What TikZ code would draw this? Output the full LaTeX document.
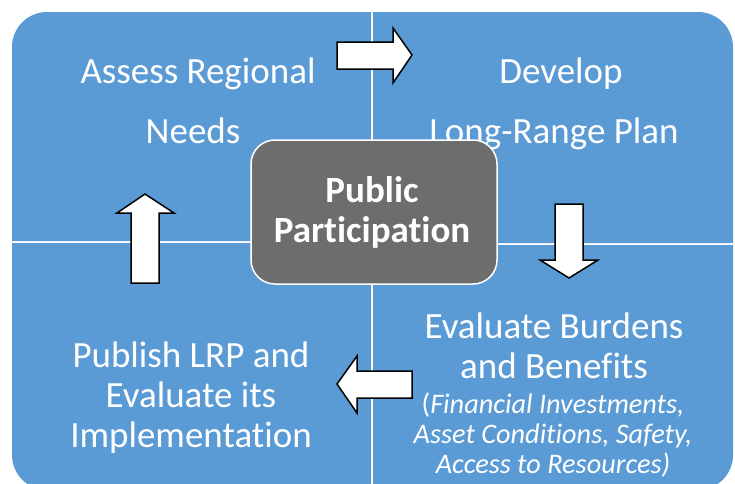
\documentclass[tikz,border=0pt]{standalone}
\usepackage{fontspec}
\setmainfont[Ligatures=NoCommon]{Carlito}
\definecolor{quadblue}{HTML}{5B9BD5}
\definecolor{boxgray}{HTML}{6D6D6D}
\begin{document}
\begin{tikzpicture}[x=1pt,y=-1pt,
  quad/.style={fill=quadblue,draw=none},
  bigtxt/.style={text=white,font=\fontsize{37}{40}\selectfont,anchor=base,inner sep=0pt},
  smalltxt/.style={text=white,font=\fontsize{28.3}{30}\selectfont\itshape,anchor=base,inner sep=0pt},
  ctrtxt/.style={text=white,font=\fontsize{37}{40}\selectfont\bfseries,anchor=base,inner sep=0pt},
  blockarrow/.style={draw=black,fill=white,line width=1.5pt,line join=miter}]
\fill[white] (0,0) rectangle (735,483);
\useasboundingbox (0,0) rectangle (735,483);
\begin{scope}
\clip (0,0) rectangle (735,483);
% quadrants
\fill[quad] (12,241) -- (12,47) arc[start angle=180,end angle=270,radius=35] -- (371,12) -- (371,241) -- cycle;
\fill[quad] (373,12) -- (698,12) arc[start angle=-90,end angle=0,radius=35] -- (733,243) -- (373,243) -- cycle;
\fill[quad] (12,243) -- (371,243) -- (371,490) -- (47,490) arc[start angle=90,end angle=180,radius=35] -- cycle;
\fill[quad] (373,245) -- (733,245) -- (733,455) arc[start angle=0,end angle=90,radius=35] -- (373,490) -- cycle;
\end{scope}
% texts
\node[bigtxt] (tl1) at (198,83) {Assess Regional};
\node[bigtxt] (tl2) at (193,143) {Needs};
\node[bigtxt] (tr1) at (561,83) {Develop};
\node[bigtxt] (tr2) at (554,143) {Long-Range Plan};
\node[bigtxt] (bl1) at (191,367) {Publish LRP and};
\node[bigtxt] (bl2) at (191,407) {Evaluate its};
\node[bigtxt] (bl3) at (191,447) {Implementation};
\node[bigtxt] (br1) at (554,338) {Evaluate Burdens};
\node[bigtxt] (br2) at (554,378) {and Benefits};
\node[smalltxt] (br3) at (553,413) {\upshape(\itshape Financial Investments,};
\node[smalltxt] (br4) at (553,443) {Asset Conditions, Safety,};
\node[smalltxt] (br5) at (553,473) {Access to Resources)};
% center box
\draw[fill=boxgray,draw=white,line width=1.5pt,rounded corners=24pt] (251,140) rectangle (497,284);
\node[ctrtxt] (c1) at (372,202) {Public};
\node[ctrtxt] (c2) at (372,242) {Participation};
% block arrows
\draw[blockarrow] (337,42) -- (393,42) -- (393,28) -- (412,55) -- (393,83) -- (393,69) -- (337,69) -- cycle;
\draw[blockarrow] (555,204) -- (583,204) -- (583,260) -- (598,260) -- (569,278) -- (540,260) -- (555,260) -- cycle;
\draw[blockarrow] (412,371) -- (357,371) -- (357,356) -- (337,384) -- (357,413) -- (357,398) -- (412,398) -- cycle;
\draw[blockarrow] (131,283) -- (131,213) -- (117,213) -- (145,194) -- (174,213) -- (159,213) -- (159,283) -- cycle;
\end{tikzpicture}
\end{document}
